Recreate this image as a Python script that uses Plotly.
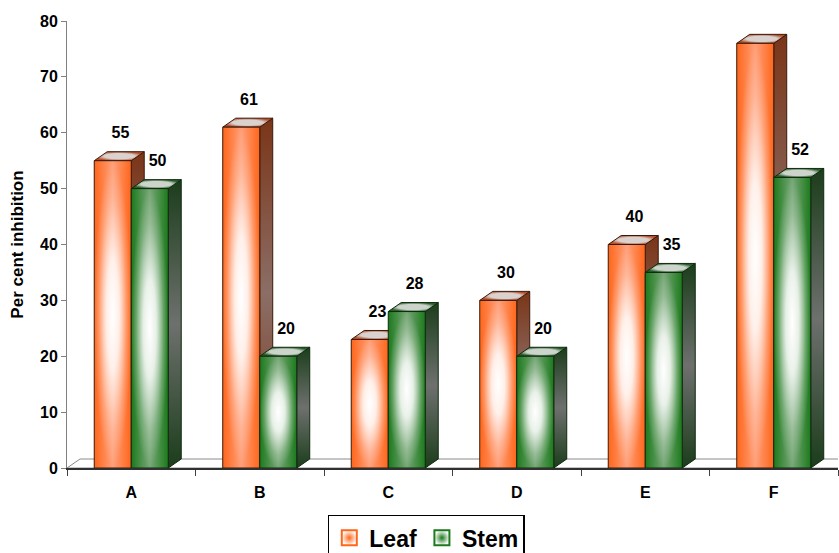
import plotly.graph_objects as go

# Per cent inhibition of leaf and stem extracts
categories = ["A", "B", "C", "D", "E", "F"]
leaf = [55, 61, 23, 30, 40, 76]
stem = [50, 20, 28, 20, 35, 52]
y_ticks = [0, 10, 20, 30, 40, 50, 60, 70, 80]

# 3-D look: bar width and extrusion depth (axis units)
BAR_W = 0.288
DX = 0.101
DY = 1.61

STYLE = {
    "Leaf": dict(edge="#FF661A", mid="#FF9E78", side_edge="#7A3518", side_mid="#8C6E66",
                 top_edge="#B8502E", top_mid="#D9D2CF", line="#3A1A0A"),
    "Stem": dict(edge="#1C7A1C", mid="#76A676", side_edge="#1B3D1B", side_mid="#6E706E",
                 top_edge="#2A5E2A", top_mid="#CCD4CC", line="#0F2A0F"),
}

fig = go.Figure()

# floor of the 3-D plot
fig.add_trace(go.Scatter(
    x=[-0.5, 5.5 + DX, 5.5 + DX + 1, -0.5 + DX, -0.5],
    y=[0, 0, DY, DY, 0],
    fill="toself", fillcolor="white", mode="lines",
    line=dict(color="#8A8A8A", width=1), hoverinfo="skip", showlegend=False,
))


def poly(xs, ys, **kw):
    fig.add_trace(go.Scatter(x=xs + [xs[0]], y=ys + [ys[0]], fill="toself", mode="lines",
                             hoverinfo="skip", showlegend=False, **kw))


label_x, label_y, label_text = [], [], []
for i, cat in enumerate(categories):
    for name, vals, x0 in (("Leaf", leaf, i - BAR_W), ("Stem", stem, i)):
        s = STYLE[name]
        v = vals[i]
        x1 = x0 + BAR_W
        # side face
        poly([x1, x1 + DX, x1 + DX, x1], [0, DY, v + DY, v],
             line=dict(color=s["line"], width=1),
             fillgradient=dict(type="vertical",
                               colorscale=[[0, s["side_edge"]], [0.5, s["side_mid"]], [1, s["side_edge"]]]))
        # top face
        poly([x0, x1, x1 + DX, x0 + DX], [v, v, v + DY, v + DY],
             line=dict(color=s["line"], width=1),
             fillgradient=dict(type="radial",
                               colorscale=[[0, s["top_mid"]], [0.6, s["top_mid"]], [1, s["top_edge"]]]))
        # front face: horizontal shading
        poly([x0, x1, x1, x0], [0, 0, v, v], line=dict(width=0),
             fillgradient=dict(type="horizontal",
                               colorscale=[[0, s["edge"]], [0.5, s["mid"]], [1, s["edge"]]]))
        # front face: central glow
        poly([x0, x1, x1, x0], [0, 0, v, v], line=dict(color=s["line"], width=1),
             fillgradient=dict(type="radial",
                               colorscale=[[0, "rgba(255,255,255,1)"], [0.35, "rgba(255,255,255,0.85)"],
                                           [0.75, "rgba(255,255,255,0.25)"], [1, "rgba(255,255,255,0)"]]))
        label_x.append(x0 + BAR_W / 2 + DX / 2 + 0.01)
        label_y.append(v + DY + 3.1)
        label_text.append(str(v))

# value labels (on the overlaid category axis)
fig.add_trace(go.Scatter(
    x=label_x, y=label_y, text=label_text, mode="text", xaxis="x2", cliponaxis=False,
    textfont=dict(family="Arial", size=16, color="black", weight="bold"),
    hoverinfo="skip", showlegend=False,
))

# legend keys
for name in ("Leaf", "Stem"):
    s = STYLE[name]
    fig.add_trace(go.Scatter(
        x=[None], y=[None], mode="markers", name=name,
        marker=dict(symbol="square", size=15, color="white",
                    gradient=dict(type="radial", color=s["edge"]),
                    line=dict(color=s["edge"], width=2)),
    ))

tickfont = dict(family="Arial", size=16, color="black", weight="bold")

fig.update_layout(
    width=839, height=553,
    margin=dict(l=67, r=1, t=21, b=85),
    paper_bgcolor="white", plot_bgcolor="white",
    xaxis=dict(range=[-0.5, 5.5], tickvals=[k - 0.5 for k in range(len(categories) + 1)],
               showticklabels=False, ticks="outside", ticklen=6, tickcolor="#404040",
               showline=True, linecolor="#303030", linewidth=2, showgrid=False, zeroline=False),
    xaxis2=dict(range=[-0.5, 5.5], overlaying="x", anchor="y", side="bottom",
                tickvals=list(range(len(categories))), ticktext=categories,
                ticks="outside", ticklen=10, tickcolor="rgba(0,0,0,0)", tickfont=tickfont,
                showline=False, showgrid=False, zeroline=False),
    yaxis=dict(range=[0, 80], tickvals=y_ticks, ticks="outside", ticklen=5, tickcolor="#808080",
               showline=True, linecolor="#808080", linewidth=1, showgrid=False, zeroline=False,
               tickfont=tickfont,
               title=dict(text="Per cent inhibition",
                          font=dict(family="Arial", size=17, color="black", weight="bold"),
                          standoff=12)),
    legend=dict(orientation="h", x=0.466, xanchor="center", y=0.069, yref="container",
                yanchor="top", bordercolor="black", borderwidth=1.5, bgcolor="white",
                font=dict(family="Arial", size=23, color="black", weight="bold")),
)

fig.write_html("out.html")
